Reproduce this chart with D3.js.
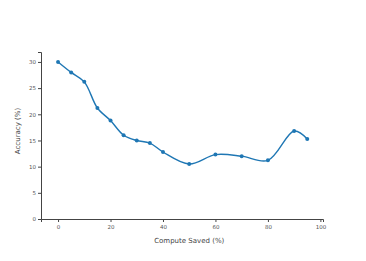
<!DOCTYPE html>
<html>
<head>
<meta charset="utf-8">
<script src="https://cdn.jsdelivr.net/npm/d3@7"></script>
<style>
  body { margin: 0; background: #fff; }
  svg { display: block; font-family: "DejaVu Sans", sans-serif; }
</style>
</head>
<body>
<svg id="chart" width="366" height="261"></svg>
<script>
const computeSaved = [0, 5, 10, 15, 20, 25, 30, 35, 40, 50, 60, 70, 80, 90, 95];
const accuracy = [30.0, 28.0, 26.2, 21.2, 18.8, 16.0, 15.0, 14.5, 12.8, 10.5, 12.3, 12.0, 11.2, 16.8, 15.3];
const xTicks = [0, 20, 40, 60, 80, 100];
const yTicks = [0, 5, 10, 15, 20, 25, 30];

const data = computeSaved.map((x, i) => ({ x, y: accuracy[i] }));

const svg = d3.select("#chart");
const margin = { top: 52, right: 43, bottom: 42, left: 41 };
const width = +svg.attr("width");
const height = +svg.attr("height");
const innerWidth = width - margin.left - margin.right;
const innerHeight = height - margin.top - margin.bottom;

const x = d3.scaleLinear().domain([-6.5, 101]).range([0, innerWidth]);
const y = d3.scaleLinear().domain([0, 31.9]).range([innerHeight, 0]);

const g = svg.append("g").attr("transform", `translate(${margin.left},${margin.top})`);

const axisColor = "#444";
const font = "'DejaVu Sans', sans-serif";

g.append("g")
    .attr("transform", `translate(0,${innerHeight})`)
    .call(d3.axisBottom(x).tickValues(xTicks).tickSize(3).tickPadding(3))
    .call(a => a.select(".domain").attr("stroke", axisColor))
    .call(a => a.selectAll(".tick line").attr("stroke", axisColor))
    .call(a => a.selectAll("text").attr("fill", "#555").attr("font-size", "5.5px").attr("font-family", font));

g.append("g")
    .call(d3.axisLeft(y).tickValues(yTicks).tickSize(3).tickPadding(2))
    .call(a => a.select(".domain").attr("stroke", axisColor))
    .call(a => a.selectAll(".tick line").attr("stroke", axisColor))
    .call(a => a.selectAll("text").attr("fill", "#555").attr("font-size", "5.5px").attr("font-family", font));

svg.append("text")
    .attr("x", margin.left + x(50))
    .attr("y", 243)
    .attr("text-anchor", "middle")
    .attr("font-size", "7px")
    .attr("font-family", font)
    .attr("fill", "#444")
    .text("Compute Saved (%)");

svg.append("text")
    .attr("transform", `translate(20,131) rotate(-90)`)
    .attr("text-anchor", "middle")
    .attr("font-size", "7px")
    .attr("font-family", font)
    .attr("fill", "#444")
    .text("Accuracy (%)");

const line = d3.line()
    .x(d => x(d.x))
    .y(d => y(d.y))
    .curve(d3.curveCatmullRom.alpha(0.5));

g.append("path")
    .datum(data)
    .attr("fill", "none")
    .attr("stroke", "#1f77b4")
    .attr("stroke-width", 1.4)
    .attr("d", line);

g.selectAll("circle")
    .data(data)
    .enter().append("circle")
    .attr("cx", d => x(d.x))
    .attr("cy", d => y(d.y))
    .attr("r", 2)
    .attr("fill", "#1f77b4");
</script>
</body>
</html>
